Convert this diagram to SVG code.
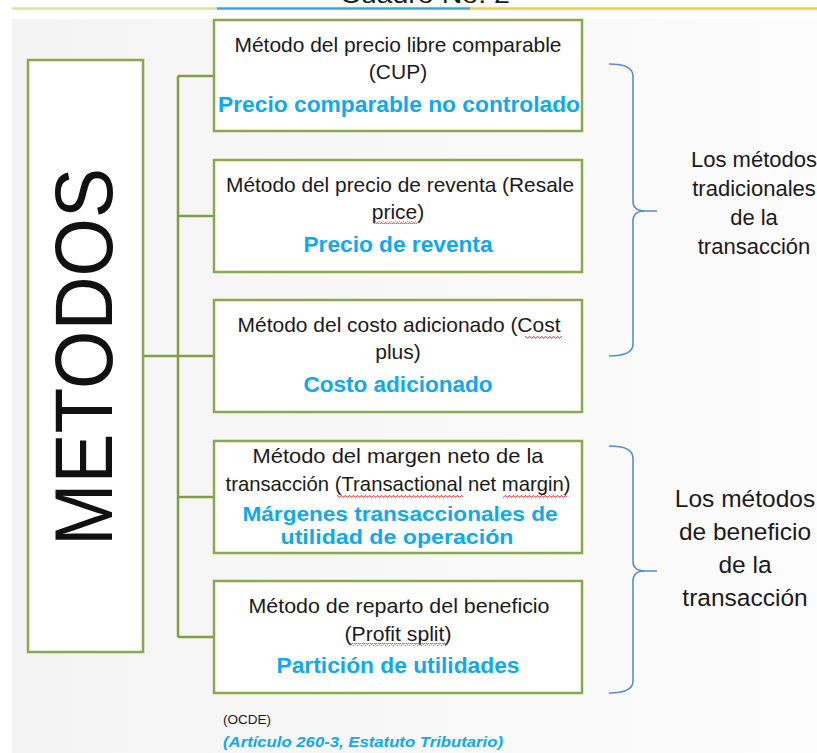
<svg xmlns="http://www.w3.org/2000/svg" width="817" height="753" viewBox="0 0 817 753">
<defs>
<linearGradient id="bg" x1="0" y1="0" x2="1" y2="0">
<stop offset="0" stop-color="#f4f4f4"/>
<stop offset="1" stop-color="#fcfcfc"/>
</linearGradient>
<pattern id="wave" width="4" height="3" patternUnits="userSpaceOnUse">
<path d="M0,2.2 L1,0.6 L2,0.6 L3,2.2 L4,2.2" fill="none" stroke="#e8353a" stroke-width="0.9"/>
</pattern>
</defs>
<style>
.box{fill:#ffffff;stroke:#8aa94c;stroke-width:2.5}
.conn{fill:none;stroke:#7f9f42;stroke-width:2.5}
.brace{fill:none;stroke:#5b8ccc;stroke-width:1.6}
.t{font-family:"Liberation Sans",Arial,sans-serif;font-size:21px;fill:#1a1a1a;text-anchor:middle}
.b{font-family:"Liberation Sans",Arial,sans-serif;font-size:22.5px;font-weight:bold;fill:#0fa9ee;text-anchor:middle}
.bs{font-size:20.5px}
.r1{font-family:"Liberation Sans",Arial,sans-serif;font-size:22px;fill:#1a1a1a;text-anchor:middle}
.r2{font-family:"Liberation Sans",Arial,sans-serif;font-size:24.5px;fill:#1a1a1a;text-anchor:middle}
.sq{fill:url(#wave)}
</style>
<rect x="0" y="0" width="817" height="753" fill="#ffffff"/>
<rect x="12" y="19" width="805" height="734" fill="url(#bg)"/>
<g id="header">
<text x="425" y="3" font-family="'Liberation Sans',Arial,sans-serif" font-size="24" fill="#1a1a1a" text-anchor="middle" textLength="170" lengthAdjust="spacingAndGlyphs">Cuadro No. 2</text>
<line x1="12" y1="8.5" x2="217" y2="8.5" stroke="#d6e3a6" stroke-width="2.5"/>
<line x1="217" y1="8.5" x2="470" y2="8.5" stroke="#39a8dc" stroke-width="2.5"/>
<line x1="470" y1="8.5" x2="817" y2="8.5" stroke="#f3cb4c" stroke-width="2.5"/>
</g>
<g id="connectors">
<line class="conn" x1="143" y1="356" x2="178" y2="356"/>
<line class="conn" x1="178" y1="76" x2="178" y2="637"/>
<line class="conn" x1="178" y1="76" x2="214" y2="76"/>
<line class="conn" x1="178" y1="216" x2="214" y2="216"/>
<line class="conn" x1="178" y1="356" x2="214" y2="356"/>
<line class="conn" x1="178" y1="497" x2="214" y2="497"/>
<line class="conn" x1="178" y1="637" x2="214" y2="637"/>
</g>
<g id="metodos">
<rect class="box" x="28" y="60" width="115" height="592"/>
<text transform="translate(112,357) rotate(-90)" x="0" y="0" font-family="'Liberation Sans',Arial,sans-serif" font-size="82" fill="#111111" text-anchor="middle" textLength="378" lengthAdjust="spacingAndGlyphs">METODOS</text>
</g>
<g id="cup">
<rect class="box" x="214" y="20" width="368" height="111"/>
<text class="t" x="398" y="52" textLength="327" lengthAdjust="spacingAndGlyphs">Método del precio libre comparable</text>
<text class="t" x="398" y="79">(CUP)</text>
<text class="b" x="399" y="112" textLength="362" lengthAdjust="spacingAndGlyphs">Precio comparable no controlado</text>
</g>
<g id="resale">
<rect class="box" x="214" y="160" width="368" height="112"/>
<text class="t" x="400" y="192" textLength="348" lengthAdjust="spacingAndGlyphs">Método del precio de reventa (Resale</text>
<text class="t" x="398" y="219">price)</text>
<rect class="sq" x="374" y="221" width="43" height="3"/>
<text class="b" x="398" y="252" textLength="189" lengthAdjust="spacingAndGlyphs">Precio de reventa</text>
</g>
<g id="costplus">
<rect class="box" x="214" y="300" width="368" height="112"/>
<text class="t" x="399" y="332" textLength="323" lengthAdjust="spacingAndGlyphs">Método del costo adicionado (Cost</text>
<rect class="sq" x="525" y="336" width="37" height="3"/>
<text class="t" x="398" y="359">plus)</text>
<text class="b" x="398" y="392" textLength="189" lengthAdjust="spacingAndGlyphs">Costo adicionado</text>
</g>
<g id="tnmm">
<rect class="box" x="214" y="441" width="368" height="112"/>
<text class="t" x="398" y="463" textLength="291" lengthAdjust="spacingAndGlyphs">Método del margen neto de la</text>
<text class="t" x="398" y="491" textLength="345" lengthAdjust="spacingAndGlyphs">transacción (Transactional net margin)</text>
<rect class="sq" x="337" y="495" width="126" height="3"/>
<rect class="sq" x="503" y="495" width="64" height="3"/>
<text class="b bs" x="400" y="521" textLength="315" lengthAdjust="spacingAndGlyphs">Márgenes transaccionales de</text>
<text class="b bs" x="397" y="544" textLength="233" lengthAdjust="spacingAndGlyphs">utilidad de operación</text>
</g>
<g id="profitsplit">
<rect class="box" x="214" y="581" width="368" height="112"/>
<text class="t" x="399" y="613" textLength="301" lengthAdjust="spacingAndGlyphs">Método de reparto del beneficio</text>
<text class="t" x="398" y="641" textLength="107" lengthAdjust="spacingAndGlyphs">(Profit split)</text>
<rect class="sq" x="350" y="643" width="98" height="3"/>
<text class="b" x="398" y="673" textLength="243" lengthAdjust="spacingAndGlyphs">Partición de utilidades</text>
</g>
<g id="tradicionales">
<path class="brace" d="M609,64 Q633,64 633,76 L633,201 Q633,211 645,211 L657,211 M645,211 Q633,211 633,221 L633,344 Q633,356 609,356"/>
<text class="r1" x="754" y="167">Los métodos</text>
<text class="r1" x="754" y="196">tradicionales</text>
<text class="r1" x="754" y="225">de la</text>
<text class="r1" x="754" y="254">transacción</text>
</g>
<g id="beneficio">
<path class="brace" d="M609,446 Q633,446 633,458 L633,561 Q633,571 645,571 L657,571 M645,571 Q633,571 633,581 L633,681 Q633,693 609,693"/>
<text class="r2" x="745" y="507">Los métodos</text>
<text class="r2" x="745" y="540">de beneficio</text>
<text class="r2" x="745" y="573">de la</text>
<text class="r2" x="745" y="606">transacción</text>
</g>
<g id="fuente">
<text x="223" y="724" font-family="'Liberation Sans',Arial,sans-serif" font-size="13.5" fill="#1a1a1a">(OCDE)</text>
<text x="223" y="747" font-family="'Liberation Sans',Arial,sans-serif" font-size="14" font-weight="bold" font-style="italic" fill="#0fa9ee" textLength="280" lengthAdjust="spacingAndGlyphs">(Artículo 260-3, Estatuto Tributario)</text>
</g>
</svg>
